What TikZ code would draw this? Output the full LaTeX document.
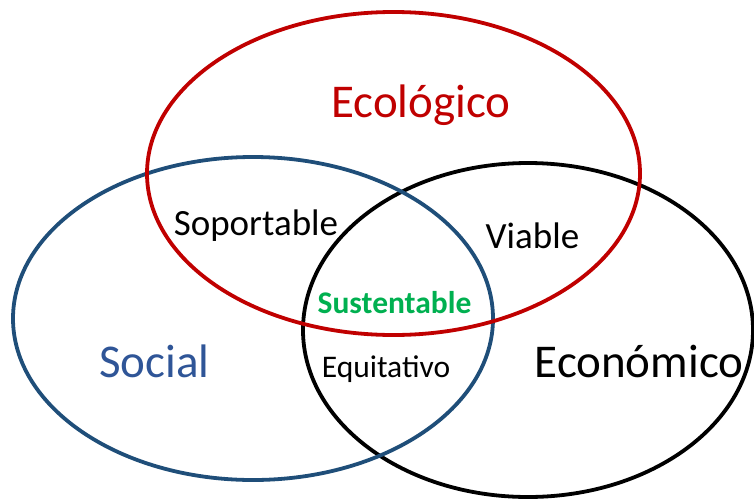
\documentclass[tikz,border=0pt]{standalone}
\usepackage{fontspec}
\setmainfont{Carlito}
\usepackage{xcolor}

\definecolor{ecored}{RGB}{192,0,0}
\definecolor{socline}{RGB}{31,78,121}
\definecolor{soctext}{RGB}{47,85,151}
\definecolor{susgreen}{RGB}{0,176,80}

\tikzset{
    ring/.style={line width=3.8pt},
    bigword/.style={anchor=base, inner sep=0pt, font=\fontsize{47}{51}\selectfont},
    midword/.style={anchor=base, inner sep=0pt, font=\fontsize{37}{41}\selectfont},
    smallword/.style={anchor=base, inner sep=0pt, font=\fontsize{31.5}{35}\selectfont}
}

\begin{document}
\begin{tikzpicture}[x=1pt,y=-1pt]
    \useasboundingbox (0,0) rectangle (754,498);

    % Rings
    \draw[ring, black] (528,330) ellipse [x radius=225, y radius=167];
    \draw[ring, socline] (253,318.5) ellipse [x radius=240, y radius=161.5];
    \draw[ring, ecored] (393.5,173.5) ellipse [x radius=246.5, y radius=161.5];

    % Ecologico
    \node[bigword, text=ecored] (ecologico) at (421,117) {Ecológico};

    % Social
    \node[bigword, text=soctext] (social) at (154.5,377) {Social};

    % Economico
    \node[bigword, text=black] (economico) at (639,377) {Económico};

    % Overlaps
    \node[midword] (soportable) at (256,235) {Soportable};
    \node[midword] (viable) at (532.5,248) {Viable};
    \node[smallword] (equitativo) at (386,377) {Equitativo};
    \node[smallword, text=susgreen, font=\fontsize{31.5}{35}\selectfont\bfseries] (sustentable) at (394.5,313) {Sustentable};
\end{tikzpicture}
\end{document}
